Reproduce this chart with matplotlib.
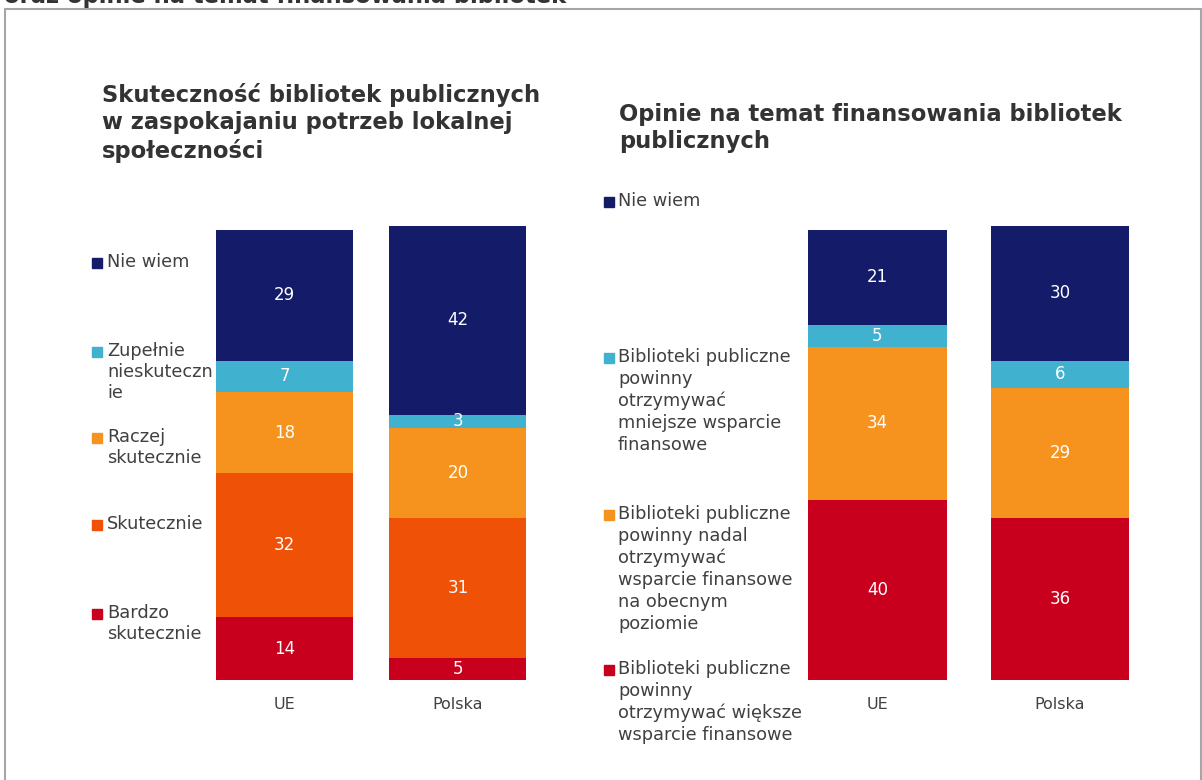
import matplotlib.pyplot as plt
from matplotlib.patches import Rectangle
import numpy as np

plt.rcParams['font.family'] = 'DejaVu Sans'

# data
kraje = ['UE', 'Polska']

skut_labels = ['Bardzo\nskutecznie', 'Skutecznie', 'Raczej\nskutecznie',
               'Zupełnie\nnieskuteczn\nie', 'Nie wiem']
bardzo = [14, 5]
skutecznie = [32, 31]
raczej = [18, 20]
zupelnie = [7, 3]
nie_wiem_l = [29, 42]

fin_labels = ['Biblioteki publiczne\npowinny\notrzymywać większe\nwsparcie finansowe',
              'Biblioteki publiczne\npowinny nadal\notrzymywać\nwsparcie finansowe\nna obecnym\npoziomie',
              'Biblioteki publiczne\npowinny\notrzymywać\nmniejsze wsparcie\nfinansowe',
              'Nie wiem']
wieksze = [40, 36]
nadal = [34, 29]
mniejsze = [5, 6]
nie_wiem_r = [21, 30]

navy = '#141B69'
cyan = '#40B1CE'
orange = '#F6921E'
redorange = '#EF5207'
red = '#C8001D'
txt = '#404040'
head = '#333333'

W, H = 1202, 780
fig = plt.figure(figsize=(W / 100, H / 100), dpi=100)

def fx(px):
    return px / W

def fy(py):
    return 1 - py / H

# outer frame and clipped heading at the top
fig.patches.append(Rectangle((fx(5), fy(790)), fx(1196), (790 - 9) / H,
                             transform=fig.transFigure, fill=False,
                             edgecolor='#A6A6A6', linewidth=1.5))
fig.text(fx(4), fy(3), 'oraz opinie na temat finansowania bibliotek',
         fontsize=16.3, fontweight='bold', color=head, va='baseline', ha='left')


def stacked(ax, series, colors, width):
    x = np.arange(len(kraje))
    bottom = np.zeros(len(kraje))
    for vals, c in zip(series, colors):
        vals = np.array(vals, dtype=float)
        ax.bar(x, vals, width, bottom=bottom, color=c, edgecolor='none')
        for xi, b, v in zip(x, bottom, vals):
            ax.text(xi, b + v / 2, str(int(v)), ha='center', va='center',
                    color='white', fontsize=12)
        bottom += vals
    ax.set_ylim(0, 102)
    ax.set_xticks(x)
    ax.set_xticklabels(kraje, fontsize=11.5, color=txt)
    ax.tick_params(axis='x', length=0, pad=12)
    ax.set_yticks([])
    for s in ax.spines.values():
        s.set_visible(False)


ax1 = fig.add_axes([fx(215), fy(680), 1.8 * 173.5 / W, 459 / H])
ax1.set_xlim(-0.4, 1.4)
stacked(ax1, [bardzo, skutecznie, raczej, zupelnie, nie_wiem_l],
        [red, redorange, orange, cyan, navy], 0.79)

ax2 = fig.add_axes([fx(808), fy(680), 1.76 * 182.5 / W, 459 / H])
ax2.set_xlim(-0.38, 1.38)
stacked(ax2, [wieksze, nadal, mniejsze, nie_wiem_r],
        [red, orange, cyan, navy], 0.76)

# titles
fig.text(fx(102), fy(83), 'Skuteczność bibliotek publicznych\nw zaspokajaniu potrzeb lokalnej\nspołeczności',
         fontsize=16.3, fontweight='bold', color=head, va='top', ha='left',
         linespacing=1.24)
fig.text(fx(619), fy(103), 'Opinie na temat finansowania bibliotek\npublicznych',
         fontsize=16.3, fontweight='bold', color=head, va='top', ha='left',
         linespacing=1.24)

# legends (drawn by hand to match the layout)
def legend_item(x_sq, x_txt, y_first, label, color, ls):
    fig.patches.append(Rectangle((fx(x_sq), fy(y_first + 5)), 10 / W, 10 / H,
                                 transform=fig.transFigure, color=color))
    fig.text(fx(x_txt), fy(y_first - 10), label, fontsize=12.8, color=txt,
             va='top', ha='left', linespacing=ls)

left_y = [614, 525, 438, 352, 263]
for lab, col, y in zip(skut_labels, [red, redorange, orange, cyan, navy], left_y):
    legend_item(92, 107, y, lab, col, 1.22)

right_y = [670, 515, 358, 202]
for lab, col, y in zip(fin_labels, [red, orange, cyan, navy], right_y):
    legend_item(604, 618, y, lab, col, 1.27)

fig.savefig('out.png', dpi=100)
